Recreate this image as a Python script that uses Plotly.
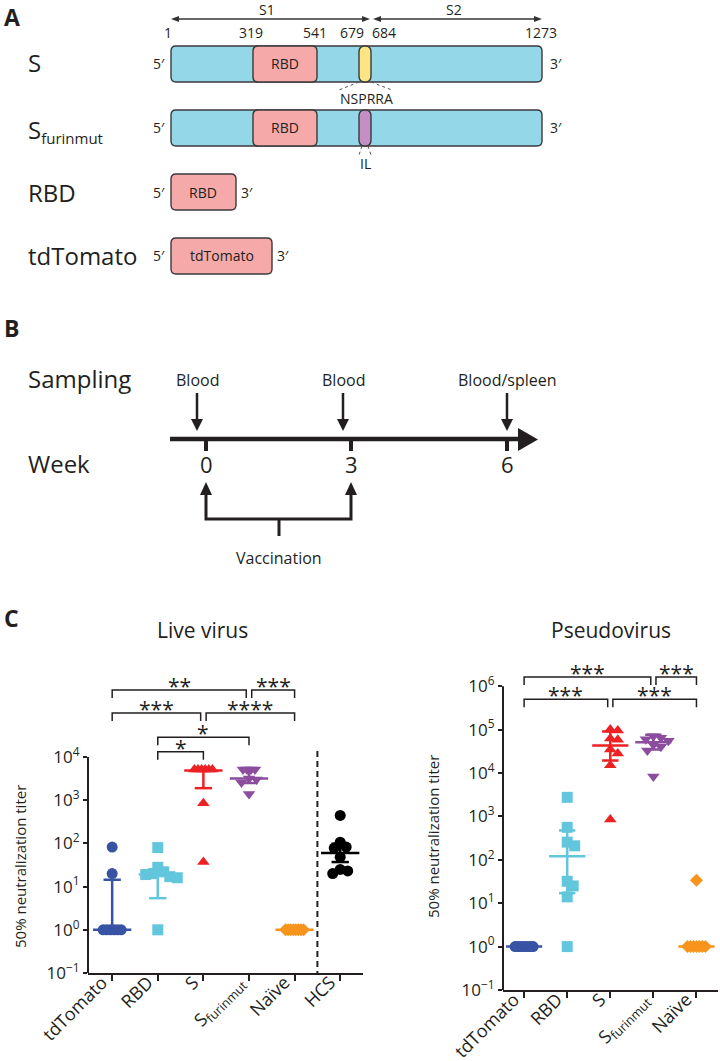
import math
import plotly.graph_objects as go

W, H = 720, 1061
FONT = "Open Sans"
INK = "#231f20"

# ---------------- Panel A (construct schematic) ----------------
construct_labels = ["S", "S<sub><span style='font-size:15px'>furinmut</span></sub>", "RBD", "tdTomato"]
aa_position_labels = ["1", "319", "541", "679", "684", "1273"]
segment_labels = ["S1", "S2"]
cleavage_labels = ["NSPRRA", "IL"]

# ---------------- Panel B (timeline) ----------------
sampling_labels = ["Blood", "Blood", "Blood/spleen"]
week_labels = ["0", "3", "6"]
vaccination_label = "Vaccination"

# ---------------- Panel C (neutralization titers) ----------------
live_groups = ["tdTomato", "RBD", "S", "S<sub>furinmut</sub>", "Naïve", "HCS"]
live_tdtomato = [82, 20, 1, 1, 1, 1, 1, 1]
live_rbd = [80, 28, 22, 20, 19, 17, 16, 1]
live_s = [5120, 5120, 5120, 5120, 5120, 5120, 850, 37]
live_sfurinmut = [5120, 5120, 5120, 5120, 3200, 3000, 2560, 1400]
live_naive = [1, 1, 1, 1, 1, 1, 1, 1]
live_hcs = [445, 107, 82, 78, 48, 25, 23, 20]
live_center = [1, 19, 4900, 3160, 1, 60]
live_err_low = [1, 5.4, 1900, 2500, 1, 37]
live_err_high = [14.4, 25, 5120, 5120, 1, 98]
live_brackets = [  # (from group, to group, label)
    ("tdTomato", "S<sub>furinmut</sub>", "**"),
    ("S<sub>furinmut</sub>", "Naïve", "***"),
    ("tdTomato", "S", "***"),
    ("S", "Naïve", "****"),
    ("RBD", "S<sub>furinmut</sub>", "*"),
    ("RBD", "S", "*"),
]

pseudo_groups = ["tdTomato", "RBD", "S", "S<sub>furinmut</sub>", "Naïve"]
pseudo_tdtomato = [1, 1, 1, 1, 1, 1, 1, 1]
pseudo_rbd = [2750, 560, 255, 210, 32, 25, 14, 1]
pseudo_s = [100000, 95000, 62000, 58000, 35000, 28000, 15000, 850]
pseudo_sfurinmut = [70000, 65000, 60000, 55000, 45000, 40000, 33000, 8300]
pseudo_naive = [34, 1, 1, 1, 1, 1, 1, 1]
pseudo_center = [1, 120, 43000, 51000, 1]
pseudo_err_low = [1, 17, 19500, 35000, 1]
pseudo_err_high = [1, 475, 91000, 76000, 1]
pseudo_brackets = [
    ("tdTomato", "S<sub>furinmut</sub>", "***"),
    ("S<sub>furinmut</sub>", "Naïve", "***"),
    ("tdTomato", "S", "***"),
    ("S", "Naïve", "***"),
]

# ---------------- styles ----------------
GROUP_STYLE = {
    "tdTomato": ("circle", 11, "#3953a4"),
    "RBD": ("square", 11, "#62c6dc"),
    "S": ("triangle-up", 11, "#ed2024"),
    "S<sub>furinmut</sub>": ("triangle-down", 11, "#8c4d9e"),
    "Naïve": ("diamond", 10, "#f7941d"),
    "HCS": ("circle", 11, "#000000"),
}


def px(x):
    return x / W


def py(y):
    return 1 - y / H


annotations = []
shapes = []


def text(t, x, y, size, xanchor="center", yanchor="middle", angle=0, color=INK, family=FONT):
    annotations.append(dict(text=t, x=px(x), y=py(y), xref="paper", yref="paper",
                            xanchor=xanchor, yanchor=yanchor, showarrow=False, textangle=angle,
                            font=dict(family=family, size=size, color=color)))


def pstr(pts):
    return " ".join(("M" if i == 0 else "L") + f"{px(a):.5f},{py(b):.5f}" for i, (a, b) in enumerate(pts))


def poly(pts, fill, lw=0, line=INK):
    shapes.append(dict(type="path", xref="paper", yref="paper", path=pstr(pts) + " Z",
                       fillcolor=fill, line=dict(color=line, width=lw)))


def seg(x0, y0, x1, y1, lw=1.5, color=INK, dash="solid"):
    shapes.append(dict(type="line", xref="paper", yref="paper", x0=px(x0), y0=py(y0), x1=px(x1), y1=py(y1),
                       line=dict(color=color, width=lw, dash=dash)))


def polyline(pts, lw=3, color=INK):
    shapes.append(dict(type="path", xref="paper", yref="paper", path=pstr(pts),
                       line=dict(color=color, width=lw)))


def rrect(x0, y0, x1, y1, r, fill, lw=1.4, line="#3a3a3a"):
    def P(a, b):
        return f"{px(a):.5f},{py(b):.5f}"
    path = (f"M{P(x0 + r, y0)} L{P(x1 - r, y0)} Q{P(x1, y0)} {P(x1, y0 + r)} "
            f"L{P(x1, y1 - r)} Q{P(x1, y1)} {P(x1 - r, y1)} L{P(x0 + r, y1)} "
            f"Q{P(x0, y1)} {P(x0, y1 - r)} L{P(x0, y0 + r)} Q{P(x0, y0)} {P(x0 + r, y0)} Z")
    shapes.append(dict(type="path", xref="paper", yref="paper", path=path, fillcolor=fill,
                       line=dict(color=line, width=lw), layer="above"))


# ======== Panel A drawing ========
text("<b>A</b>", 2, 17, 23, xanchor="left")
for (xa, xb), lab in zip([(171, 370), (373, 542)], segment_labels):
    seg(xa + 3, 19, xb - 3, 19, lw=1.4, color="#333333")
    poly([(xa, 19), (xa + 8, 16), (xa + 8, 22)], "#333333")
    poly([(xb, 19), (xb - 8, 16), (xb - 8, 22)], "#333333")
    text(lab, (xa + xb) / 2 - 4, 10, 14)
for lab, xc in zip(aa_position_labels, [168, 251, 315, 352, 384, 541]):
    text(lab, xc, 33, 14)

CYAN, PINK, YEL, PUR = "#93d7e8", "#f6a9a9", "#fde583", "#c38fc4"
row_y = [64, 128, 192, 256]
for yc, furin_col in zip(row_y[:2], [YEL, PUR]):
    rrect(171, yc - 18, 542, yc + 18, 5, CYAN)
    rrect(253, yc - 18, 317, yc + 18, 5, PINK)
    rrect(359, yc - 18, 371, yc + 18, 6, furin_col)
    text("RBD", 285, yc, 14)
    text("5′", 159, yc, 14)
    text("3′", 556, yc, 14)
rrect(171, row_y[2] - 18, 236, row_y[2] + 18, 5, PINK)
text("RBD", 203, row_y[2], 14)
text("5′", 159, row_y[2], 14)
text("3′", 247, row_y[2], 14)
rrect(171, row_y[3] - 18, 272, row_y[3] + 18, 5, PINK)
text("tdTomato", 222, row_y[3], 14)
text("5′", 159, row_y[3], 14)
text("3′", 283, row_y[3], 14)
for lab, yc in zip(construct_labels, [63, 131, 192, 256]):
    text(lab, 26, yc, 24, xanchor="left")
seg(359, 82, 339, 90, lw=1, color="#555555", dash="dot")
seg(371, 82, 392, 90, lw=1, color="#555555", dash="dot")
text(cleavage_labels[0], 366, 98, 14)
seg(362, 146, 359, 155, lw=1, color="#555555", dash="dot")
seg(368, 146, 371, 155, lw=1, color="#555555", dash="dot")
text(cleavage_labels[1], 365, 163, 14)

# ======== Panel B drawing ========
text("<b>B</b>", 2, 328, 23, xanchor="left")
text("Sampling", 26, 378, 24, xanchor="left")
text("Week", 26, 463, 24, xanchor="left")
for lab, xs in zip(sampling_labels, [197, 343, 507]):
    text(lab, xs, 380, 16)
    seg(xs, 393, xs, 421, lw=2.5)
    poly([(xs - 6, 419), (xs + 6, 419), (xs, 431)], INK)
seg(170, 439, 521, 439, lw=4.5)
poly([(518, 428), (538, 439.5), (518, 451)], INK)
for lab, xt in zip(week_labels, [206, 351, 507]):
    seg(xt, 439, xt, 451, lw=4)
    text(lab, xt, 464, 22)
polyline([(206, 493), (206, 519), (351, 519), (351, 493)], lw=3)
for xt in [206, 351]:
    poly([(xt - 6, 495), (xt + 6, 495), (xt, 482)], INK)
seg(279, 519, 279, 536, lw=3)
text(vaccination_label, 279, 558, 16)

# ======== Panel C ========
text("<b>C</b>", 2, 618, 23, xanchor="left")
text("Live virus", 202, 630, 21)
text("Pseudovirus", 611, 630, 21)
text("50% neutralization titer", 20, 867, 15, angle=-90)
text("50% neutralization titer", 433, 837, 15, angle=-90)


def swarm(vals, ppc, ppd, diff_gap=7.5, step=1.5):
    """Offsets (in category units): identical values packed symmetrically, others dodge collisions."""
    offs = [0.0] * len(vals)
    placed = []
    counts = {}
    for v in vals:
        counts[v] = counts.get(v, 0) + 1
    done = set()
    for v, k in counts.items():
        if k > 1:
            gap = min(4.0, 18.0 / (k - 1))
            idx = [i for i, u in enumerate(vals) if u == v]
            for j, i in enumerate(idx):
                c = (j - (k - 1) / 2) * gap
                offs[i] = c / ppc
                placed.append((c, math.log10(v) * ppd))
                done.add(i)
    order = sorted([i for i in range(len(vals)) if i not in done], key=lambda i: -vals[i])
    for i in order:
        yv = math.log10(vals[i]) * ppd
        n = 0
        while True:
            c = ((n + 1) // 2) * step * (1 if n % 2 else -1)
            if all(math.hypot(c - xp, yv - yp) >= diff_gap for xp, yp in placed):
                break
            n += 1
        placed.append((c, yv))
        offs[i] = c / ppc
    return offs


fig = go.Figure()


def panel(groups, series, center, lo, hi, brackets, levels, xa, ya, ppc, ppd, ytop_axis):
    for i, (g, vals) in enumerate(zip(groups, series)):
        sym, size, col = GROUP_STYLE[g]
        offs = swarm(vals, ppc, ppd)
        fig.add_trace(go.Scatter(x=[i + o for o in offs], y=[math.log10(v) for v in vals], mode="markers",
                                 marker=dict(symbol=sym, size=size, color=col, line=dict(width=0)),
                                 xaxis=xa, yaxis=ya, showlegend=False, cliponaxis=False, hoverinfo="skip"))
    for i, g in enumerate(groups):
        col = GROUP_STYLE[g][2]
        c, l, h = math.log10(center[i]), math.log10(lo[i]), math.log10(hi[i])
        xs = [i - 0.42, i + 0.42, None]
        ys = [c, c, None]
        if h > c + 1e-9:
            xs += [i, i, None, i - 0.19, i + 0.19, None]
            ys += [c, h, None, h, h, None]
        if l < c - 1e-9:
            xs += [i, i, None, i - 0.19, i + 0.19, None]
            ys += [c, l, None, l, l, None]
        fig.add_trace(go.Scatter(x=xs, y=ys, mode="lines", line=dict(color=col, width=2.5),
                                 xaxis=xa, yaxis=ya, showlegend=False, hoverinfo="skip"))
    for (g0, g1, lab), lev in zip(brackets, levels):
        i0, i1 = groups.index(g0), groups.index(g1)
        drop = 8 / ppd
        key_left = [bb for bb, lv in zip(brackets, levels) if bb[1] == g0 and abs(lv - lev) < 1e-6]
        key_right = [bb for bb, lv in zip(brackets, levels) if bb[0] == g1 and abs(lv - lev) < 1e-6]
        a = i0 + (0.06 if key_left else 0)
        b = i1 - (0.06 if key_right else 0)
        fig.add_trace(go.Scatter(x=[a, a, b, b], y=[lev - drop, lev, lev, lev - drop], mode="lines",
                                 line=dict(color=INK, width=1.5), xaxis=xa, yaxis=ya,
                                 showlegend=False, hoverinfo="skip"))
        annotations.append(dict(text=lab, x=(a + b) / 2, y=lev, xref=xa, yref=ya, showarrow=False,
                                xanchor="center", yanchor="middle", yshift=4,
                                font=dict(family=FONT, size=21, color=INK)))
    shapes.append(dict(type="line", xref=xa + " domain", yref=ya, x0=0, x1=0, y0=-1, y1=ytop_axis,
                       line=dict(color=INK, width=2)))


live_series = [live_tdtomato, live_rbd, live_s, live_sfurinmut, live_naive, live_hcs]
pseudo_series = [pseudo_tdtomato, pseudo_rbd, pseudo_s, pseudo_sfurinmut, pseudo_naive]

panel(live_groups, live_series, live_center, live_err_low, live_err_high, live_brackets,
      [5.55, 5.55, 5.02, 5.02, 4.46, 4.12], "x", "y", 45.6, 43.2, 4)
panel(pseudo_groups, pseudo_series, pseudo_center, pseudo_err_low, pseudo_err_high, pseudo_brackets,
      [6.21, 6.21, 5.70, 5.70], "x2", "y2", 43.1, 43.4, 6)

fig.add_trace(go.Scatter(x=[4.5, 4.5], y=[4.14, -1], mode="lines", line=dict(color=INK, width=2, dash="6px,4px"),
                         xaxis="x", yaxis="y", showlegend=False, hoverinfo="skip"))


def ytick(n):
    return "10<sup>" + (str(n) if n >= 0 else "−" + str(-n)) + "</sup>"


common_x = dict(showline=True, linecolor=INK, linewidth=2, ticks="outside", ticklen=6, tickwidth=2,
                tickcolor=INK, tickangle=-45, showgrid=False, zeroline=False, automargin=False,
                ticklabelstandoff=-16, ticklabelshift=-10,
                tickfont=dict(family=FONT, size=18, color=INK), fixedrange=True)
common_y = dict(showline=False, ticks="outside", ticklen=4, tickwidth=2, tickcolor=INK, showgrid=False,
                zeroline=False, automargin=False, tickfont=dict(family=FONT, size=17, color=INK),
                fixedrange=True)

live_ppd, pseudo_ppd = 43.2, 43.4
live_top = 5.8
pseudo_top = 6.5
fig.update_layout(
    template="none",
    width=W, height=H, margin=dict(l=0, r=0, t=0, b=0, pad=0, autoexpand=False),
    paper_bgcolor="white", plot_bgcolor="rgba(0,0,0,0)",
    showlegend=False, hovermode=False,
    font=dict(family=FONT, color=INK),
    xaxis=dict(domain=[px(88), px(363)], range=[-0.53, 5.5], anchor="y",
               tickvals=list(range(len(live_groups))), ticktext=live_groups, **common_x),
    yaxis=dict(domain=[py(973), py(973 - (live_top + 1) * live_ppd)], range=[-1, live_top], anchor="x",
               tickvals=list(range(-1, 5)), ticktext=[ytick(n) for n in range(-1, 5)], **common_y),
    xaxis2=dict(domain=[px(503), px(718)], range=[-0.49, 4.5], anchor="y2",
                tickvals=list(range(len(pseudo_groups))), ticktext=pseudo_groups, **common_x),
    yaxis2=dict(domain=[py(990), py(990 - (pseudo_top + 1) * pseudo_ppd)], range=[-1, pseudo_top], anchor="x2",
                tickvals=list(range(-1, 7)), ticktext=[ytick(n) for n in range(-1, 7)], **common_y),
    annotations=annotations,
    shapes=shapes,
)

fig.write_html("out.html", config={"displayModeBar": False, "staticPlot": True},
               post_script="document.body.style.margin='0';document.body.style.overflow='hidden';")
